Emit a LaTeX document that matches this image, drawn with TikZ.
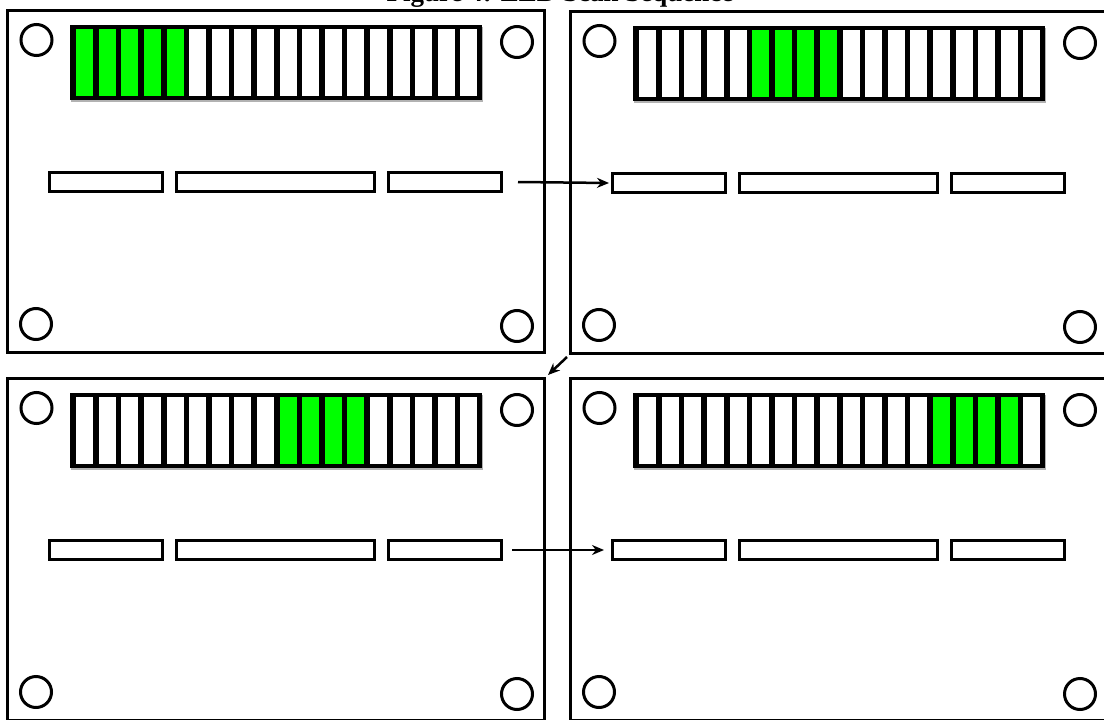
\documentclass[tikz,border=0pt]{standalone}
\usepackage{fontspec}
\setmainfont{Liberation Serif}
\usetikzlibrary{arrows.meta,shadows,calc}
\definecolor{ledgreen}{RGB}{0,255,0}
\newcommand\ledpanel[5]{% #1 name, #2 x, #3 y, #4 first lit, #5 last lit
  \node[panel] (#1) at (#2,#3) {};
  \begin{scope}[shift={(#1.north west)}]
    \node[hole] (#1h1) at (30.5,31) {};
    \node[hole] (#1h2) at (511,33) {};
    \node[hole] (#1h3) at (30,315) {};
    \node[hole] (#1h4) at (511,317) {};
    \node[ledbar] (#1bar) at (64,16) {};
    \foreach \i in {1,...,18} {
      \pgfmathsetmacro\sx{70+(\i-1)*22.6}
      \def\segcol{white}
      \ifnum\i<#4\relax\else\ifnum\i>#5\relax\else\def\segcol{ledgreen}\fi\fi
      \node[seg,fill=\segcol] (#1led\i) at (\sx,20) {};
    }
    \node[slot,minimum width=113pt] (#1s1) at (42,162) {};
    \node[slot,minimum width=198pt] (#1s2) at (169,162) {};
    \node[slot,minimum width=113pt] (#1s3) at (381,162) {};
  \end{scope}
}
\begin{document}
\begin{tikzpicture}[x=1pt,y=-1pt,
  panel/.style={draw=black,line width=3pt,fill=white,minimum width=537pt,minimum height=342pt,
    inner sep=0pt,anchor=north west,
    drop shadow={shadow xshift=1pt,shadow yshift=-1.5pt,fill=gray!60,opacity=1}},
  hole/.style={draw=black,line width=3pt,circle,minimum size=31pt,inner sep=0pt},
  ledbar/.style={fill=black,minimum width=412pt,minimum height=75pt,inner sep=0pt,
    anchor=north west,
    drop shadow={shadow xshift=0.5pt,shadow yshift=-1.5pt,fill=gray!60,opacity=1}},
  seg/.style={minimum width=17pt,minimum height=67pt,inner sep=0pt,anchor=north west},
  slot/.style={draw=black,line width=3pt,fill=white,minimum height=19pt,inner sep=0pt,anchor=north west},
  flow/.style={-{Stealth[length=12pt,width=10pt]},line width=2.5pt}
]
\useasboundingbox (0,0) rectangle (1104,720);
\clip (0,0) rectangle (1104,720);
\ledpanel{p1}{6}{9}{1}{5}
\ledpanel{p2}{569}{10}{6}{9}
\ledpanel{p3}{6}{377}{10}{13}
\ledpanel{p4}{569}{377}{14}{17}
\node[anchor=base] (title) at (560,1.5) {\fontsize{27}{31}\selectfont\bfseries Figure 4: LED Scan Sequence};
\draw[flow] ($(p1s3.east)+(15,0)$) -- ($(p2s1.west)+(-2,0)$);
\draw[flow] ($(p3s3.east)+(9,0)$) -- ($(p4s1.west)+(-7,0)$);
\draw[flow] ($(p2.south west)+(-2,2)$) -- ($(p3.north east)+(2,-2)$);
\end{tikzpicture}
\end{document}
